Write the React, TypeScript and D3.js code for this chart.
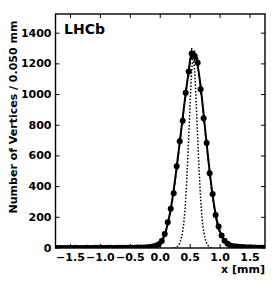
import { useEffect, useRef } from "react"
import * as d3 from "d3"

// histogram binning (bin width 0.050 mm)
const binStart = -1.75
const binWidth = 0.05

// vertices per bin, bins from -1.75 to 1.75 mm
const counts = [
  0, 0, 0, 0, 0, 0, 1, 0, 0, 0,
  1, 0, 0, 1, 0, 1, 0, 1, 1, 0,
  1, 1, 1, 1, 2, 1, 2, 3, 3, 4,
  5, 6, 9, 14, 24, 45, 92, 168, 255, 356,
  532, 695, 830, 1012, 1150, 1268, 1252, 1207, 1034, 845,
  684, 487, 352, 215, 140, 82, 48, 27, 16, 11,
  9, 7, 6, 5, 4, 4, 3, 2, 2, 1,
]

// fitted curve evaluated at bin centres
const fitValues = [
  0, 0, 0, 0, 0, 0, 0, 0, 0, 0,
  0, 0, 0, 0, 0, 0, 0, 0, 0, 0,
  1, 1, 1, 1, 1, 2, 2, 3, 3, 4,
  5, 7, 10, 15, 26, 48, 90, 160, 255, 380,
  530, 690, 850, 1010, 1150, 1262, 1268, 1190, 1050, 870,
  680, 500, 345, 220, 135, 80, 47, 28, 17, 12,
  9, 7, 6, 5, 4, 3, 3, 2, 2, 1,
]

// dashed component, bins 33..57
const dashedFirstBin = 33
const dashedValues = [
  10, 20, 40, 80, 148, 240, 365, 515, 675, 840,
  1000, 1140, 1240, 1250, 1180, 1040, 858, 665, 485, 330,
  205, 120, 68, 38, 20,
]

// narrow (dotted) component
const dottedX = [
  0.225, 0.25, 0.275, 0.3, 0.325, 0.35, 0.375, 0.4, 0.425, 0.45,
  0.475, 0.5, 0.525, 0.55, 0.575, 0.6, 0.625, 0.65, 0.675, 0.7,
  0.725, 0.75, 0.775, 0.8, 0.825, 0.85, 0.875,
]
const dottedY = [
  0, 2, 6, 15, 32, 62, 110, 190, 320, 500,
  720, 950, 1150, 1240, 1150, 950, 720, 500, 320, 190,
  110, 62, 32, 15, 6, 2, 0,
]

const xTicks = [-1.5, -1.0, -0.5, 0.0, 0.5, 1.0, 1.5]
const yTicks = [0, 200, 400, 600, 800, 1000, 1200, 1400]

const W = 279
const H = 294
const font = "'DejaVu Sans', sans-serif"

export default function App() {
  const svgRef = useRef<SVGSVGElement>(null)

  useEffect(() => {
    if (!svgRef.current) return
    const svg = d3.select(svgRef.current)
    svg.selectAll("*").remove()

    const left = 55.5
    const right = 265
    const top = 14
    const bottom = 248

    const x = d3.scaleLinear().domain([-1.75, 1.75]).range([left, right])
    const y = d3.scaleLinear().domain([0, 1525]).range([bottom, top])

    const center = (i: number) => binStart + (i + 0.5) * binWidth

    svg.append("defs")
      .append("clipPath")
      .attr("id", "plotclip")
      .append("rect")
      .attr("x", left)
      .attr("y", top)
      .attr("width", right - left)
      .attr("height", bottom - top)

    const plot = svg.append("g").attr("clip-path", "url(#plotclip)")

    const curve = d3.line<[number, number]>()
      .x((d) => x(d[0]))
      .y((d) => y(d[1]))
      .curve(d3.curveCatmullRom)

    // dotted narrow component
    plot.append("path")
      .attr("d", curve(dottedX.map((v, i) => [v, dottedY[i]] as [number, number])))
      .attr("fill", "none")
      .attr("stroke", "#000")
      .attr("stroke-width", 1.5)
      .attr("stroke-dasharray", "1.5,1.8")

    // dashed component
    plot.append("path")
      .attr("d", curve(dashedValues.map((v, i) => [center(i + dashedFirstBin), v] as [number, number])))
      .attr("fill", "none")
      .attr("stroke", "#000")
      .attr("stroke-width", 1.3)
      .attr("stroke-dasharray", "4,2")

    // solid fit
    plot.append("path")
      .attr("d", curve(fitValues.map((v, i) => [center(i), v] as [number, number])))
      .attr("fill", "none")
      .attr("stroke", "#000")
      .attr("stroke-width", 2)

    // error bars
    counts.forEach((c, i) => {
      const e = Math.sqrt(c)
      plot.append("line")
        .attr("x1", x(center(i)))
        .attr("x2", x(center(i)))
        .attr("y1", y(c - e))
        .attr("y2", y(c + e))
        .attr("stroke", "#000")
        .attr("stroke-width", 1.3)
    })

    // data markers
    plot.selectAll("circle")
      .data(counts)
      .enter()
      .append("circle")
      .attr("cx", (_d, i) => x(center(i)))
      .attr("cy", (d) => y(d))
      .attr("r", 3)
      .attr("fill", "#000")

    // frame
    svg.append("rect")
      .attr("x", left)
      .attr("y", top)
      .attr("width", right - left)
      .attr("height", bottom - top)
      .attr("fill", "none")
      .attr("stroke", "#000")
      .attr("stroke-width", 1.4)

    const tickLen = 4
    xTicks.forEach((t) => {
      const px = x(t)
      svg.append("line").attr("x1", px).attr("x2", px)
        .attr("y1", bottom).attr("y2", bottom - tickLen)
        .attr("stroke", "#000").attr("stroke-width", 1)
      svg.append("line").attr("x1", px).attr("x2", px)
        .attr("y1", top).attr("y2", top + tickLen)
        .attr("stroke", "#000").attr("stroke-width", 1)
      svg.append("text")
        .attr("x", px)
        .attr("y", 261)
        .attr("text-anchor", "middle")
        .attr("font-family", font)
        .attr("font-weight", "bold")
        .attr("font-size", "11px")
        .text(t.toFixed(1).replace("-", "\u2212"))
    })

    yTicks.forEach((t) => {
      const py = y(t)
      svg.append("line").attr("x1", left).attr("x2", left + tickLen)
        .attr("y1", py).attr("y2", py)
        .attr("stroke", "#000").attr("stroke-width", 1)
      svg.append("line").attr("x1", right).attr("x2", right - tickLen)
        .attr("y1", py).attr("y2", py)
        .attr("stroke", "#000").attr("stroke-width", 1)
      svg.append("text")
        .attr("x", left - 4)
        .attr("y", py)
        .attr("text-anchor", "end")
        .attr("dominant-baseline", "central")
        .attr("font-family", font)
        .attr("font-weight", "bold")
        .attr("font-size", "11px")
        .text(String(t))
    })

    svg.append("text")
      .attr("x", 64)
      .attr("y", 34.3)
      .attr("font-family", font)
      .attr("font-weight", "bold")
      .attr("font-size", "14px")
      .text("LHCb")

    svg.append("text")
      .attr("x", right)
      .attr("y", 273)
      .attr("text-anchor", "end")
      .attr("font-family", font)
      .attr("font-weight", "bold")
      .attr("font-size", "11px")
      .text("x [mm]")

    svg.append("text")
      .attr("transform", `translate(16.5,${(top + bottom) / 2 - 14}) rotate(-90)`)
      .attr("text-anchor", "middle")
      .attr("font-family", font)
      .attr("font-weight", "bold")
      .attr("font-size", "11px")
      .text("Number of Vertices / 0.050 mm")
  }, [])

  return (
    <svg
      ref={svgRef}
      width={W}
      height={H}
      style={{ position: "absolute", left: 0, top: 0, background: "#fff", display: "block" }}
    />
  )
}
